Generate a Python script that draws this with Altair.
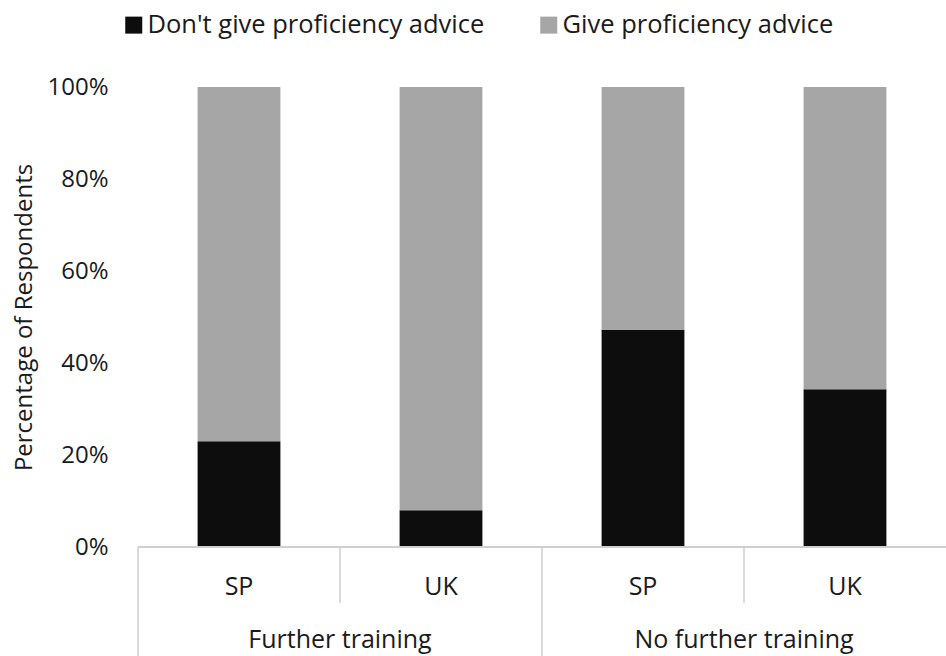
import altair as alt
import pandas as pd

# Survey responses: share of respondents who do / don't give proficiency advice
groups = ["Further training", "Further training", "No further training", "No further training"]
countries = ["SP", "UK", "SP", "UK"]
dont_give = [23.0, 8.0, 47.2, 34.3]
give = [77.0, 92.0, 52.8, 65.7]
series = ["Don't give proficiency advice", "Give proficiency advice"]
colors = ["#0d0d0d", "#a6a6a6"]
y_ticks = [0, 20, 40, 60, 80, 100]

FONT = "Open Sans"
FS = 24
TEXT = "#1a1a1a"
LINE = "#cfcfcf"
W, H = 808, 460

keys = [f"{g}|{c}" for g, c in zip(groups, countries)]

rows = []
for k, g, c, d, v in zip(keys, groups, countries, dont_give, give):
    rows.append({"key": k, "group": g, "country": c, "series": series[0], "pct": d, "ord": 0})
    rows.append({"key": k, "group": g, "country": c, "series": series[1], "pct": v, "ord": 1})
bars_df = pd.DataFrame(rows)

cats_df = pd.DataFrame({"key": keys, "group": groups, "country": countries})
# first band of each group carries the group label and the long divider
group_first = cats_df.drop_duplicates("group")
group_second = cats_df[~cats_df.index.isin(group_first.index)]

xscale = alt.Scale(domain=keys, paddingInner=0, paddingOuter=0)
yscale = alt.Scale(domain=[0, 100], nice=False)

bars = alt.Chart(bars_df).mark_bar(width=alt.RelativeBandSize(0.41)).encode(
    x=alt.X("key:N", scale=xscale, axis=None, sort=keys),
    y=alt.Y(
        "pct:Q",
        stack="zero",
        scale=yscale,
        axis=alt.Axis(
            values=y_ticks,
            labelExpr="datum.value + '%'",
            labelFont=FONT,
            labelFontSize=FS,
            labelColor=TEXT,
            labelPadding=30,
            ticks=False,
            domain=False,
            grid=False,
            title="Percentage of Respondents",
            titleFont=FONT,
            titleFontSize=FS,
            titleFontWeight="normal",
            titleColor=TEXT,
            titlePadding=10,
        ),
    ),
    color=alt.Color(
        "series:N",
        scale=alt.Scale(domain=series, range=colors),
        legend=alt.Legend(
            title=None,
            orient="none",
            legendX=-17,
            legendY=-75,
            direction="horizontal",
            symbolType="square",
            symbolSize=289,
            symbolStrokeWidth=0,
            labelFont=FONT,
            labelFontSize=25.5,
            labelColor=TEXT,
            labelOffset=1,
            labelLimit=0,
            columnPadding=51,
        ),
    ),
    order=alt.Order("ord:Q"),
)

baseline = alt.Chart(cats_df).mark_rule(color=LINE, strokeWidth=1.5).encode(
    y=alt.YDatum(0, scale=yscale),
)

long_div = alt.Chart(group_first).mark_rule(color=LINE, strokeWidth=1.5).encode(
    x=alt.X("key:N", scale=xscale, axis=None, sort=keys, bandPosition=0),
    y=alt.value(H),
    y2=alt.value(H + 109),
)

short_div = alt.Chart(group_second).mark_rule(color=LINE, strokeWidth=1.5).encode(
    x=alt.X("key:N", scale=xscale, axis=None, sort=keys, bandPosition=0),
    y=alt.value(H),
    y2=alt.value(H + 56),
)

country_lbl = alt.Chart(cats_df).mark_text(
    font=FONT, fontSize=25, color=TEXT, baseline="middle"
).encode(
    x=alt.X("key:N", scale=xscale, axis=None, sort=keys),
    y=alt.value(H + 40),
    text="country:N",
)

group_lbl = alt.Chart(group_first).mark_text(
    font=FONT, fontSize=25, color=TEXT, baseline="middle"
).encode(
    x=alt.X("key:N", scale=xscale, axis=None, sort=keys, bandPosition=1),
    y=alt.value(H + 93),
    text="group:N",
)

chart = (
    alt.layer(bars, baseline, long_div, short_div, country_lbl, group_lbl)
    .properties(
        width=W,
        height=H,
        autosize=alt.AutoSizeParams(type="none"),
        padding={"left": 138, "top": 87, "right": 0, "bottom": 109},
        background="white",
    )
    .configure_view(stroke=None)
)

chart.save("out.html", embed_options={"renderer": "svg", "actions": False})
